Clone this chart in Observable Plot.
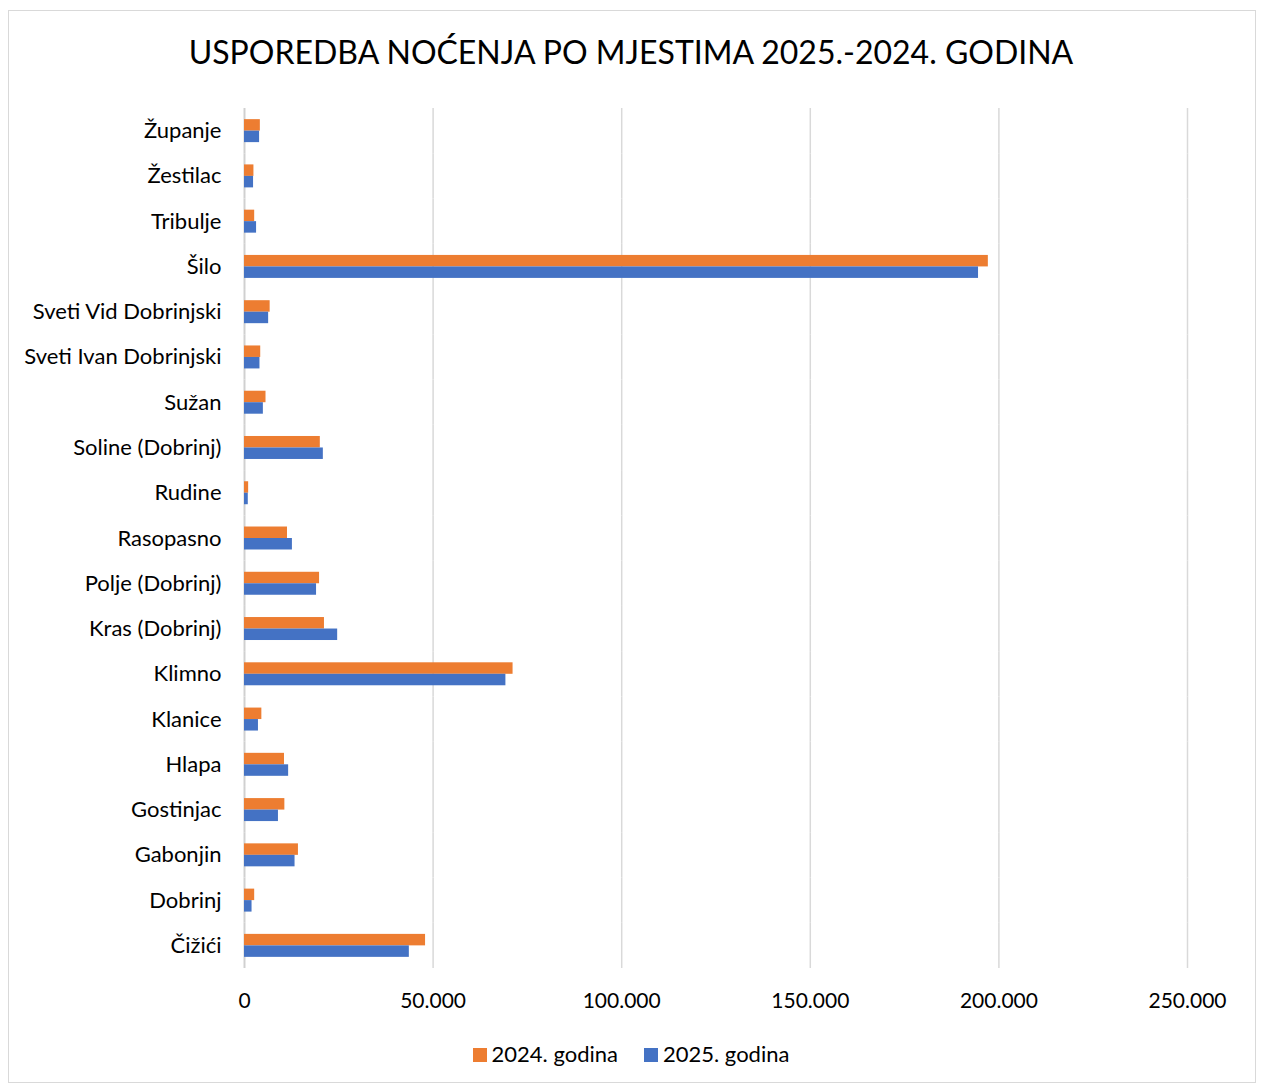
<!DOCTYPE html>
<html>
<head>
<meta charset="utf-8">
<script src="https://cdn.jsdelivr.net/npm/d3@7"></script>
<script src="https://cdn.jsdelivr.net/npm/@observablehq/plot@0.6"></script>
<style>
  body { margin: 0; background: #fff; font-family: Lato, "Noto Sans", sans-serif; }
  #frame { position: absolute; left: 8px; top: 10px; width: 1246px; height: 1071px; border: 1px solid #d9d9d9; }
  #title { position: absolute; left: 0; top: 32px; width: 1262px; text-align: center; font-size: 32px; color: #000; white-space: nowrap; }
  #chart { position: absolute; left: 0; top: 90px; }
  #legend { position: absolute; left: 0; top: 1040px; width: 1262px; text-align: center; font-size: 22px; color: #000; white-space: nowrap; }
  .sw { display: inline-block; width: 14px; height: 14px; margin-right: 5px; vertical-align: 0px; }
  .item { display: inline-block; margin: 0 13px; }
</style>
</head>
<body>
<div id="frame"></div>
<div id="title">USPOREDBA NOĆENJA PO MJESTIMA 2025.-2024. GODINA</div>
<div id="chart"></div>
<div id="legend"></div>
<script>
const places = ["Županje","Žestilac","Tribulje","Šilo","Sveti Vid Dobrinjski","Sveti Ivan Dobrinjski","Sužan","Soline (Dobrinj)","Rudine","Rasopasno","Polje (Dobrinj)","Kras (Dobrinj)","Klimno","Klanice","Hlapa","Gostinjac","Gabonjin","Dobrinj","Čižići"];
const v2024 = [4200,2500,2700,197200,6800,4300,5700,20100,1100,11400,19900,21200,71200,4600,10600,10700,14300,2700,48000];
const v2025 = [4000,2400,3200,194600,6400,4100,5000,20900,1000,12700,19100,24700,69300,3700,11700,9000,13400,2000,43700];
const series = ["2024. godina","2025. godina"];
const colors = ["#ED7D31","#4472C4"];
const xTicks = [0,50000,100000,150000,200000,250000];

const data = [];
places.forEach((p,i) => {
  data.push({place: p, series: series[0], value: v2024[i]});
  data.push({place: p, series: series[1], value: v2025[i]});
});

const fmt = d3.formatLocale({decimal: ",", thousands: ".", grouping: [3], currency: ["",""]}).format(",");

const chart = Plot.plot({
  width: 1262,
  height: 940,
  marginLeft: 244,
  marginRight: 75,
  marginTop: 18,
  marginBottom: 62,
  style: {fontFamily: "Lato, 'Noto Sans', sans-serif", fontSize: "21px", color: "#000"},
  x: {domain: [0, 250000], axis: null},
  y: {domain: series, axis: null, paddingInner: 0, paddingOuter: 0.97, round: false},
  fy: {domain: places, paddingInner: 0, paddingOuter: 0, round: false},
  color: {domain: series, range: colors},
  marks: [
    Plot.ruleX(xTicks.slice(1), {stroke: "#d9d9d9", strokeWidth: 1.5}),
    Plot.ruleX([0], {stroke: "#d0d0d0", strokeWidth: 2}),
    Plot.barX(data, {fy: "place", y: "series", x: "value", fill: "series", inset: 0}),
    Plot.axisFy({anchor: "left", tickSize: 0, tickPadding: 23, fontSize: 22, label: null}),
    Plot.axisX({ticks: xTicks, tickFormat: fmt, tickSize: 0, tickPadding: 25, fontSize: 21, label: null, facetAnchor: "bottom"})
  ]
});
document.getElementById("chart").appendChild(chart);

const leg = document.getElementById("legend");
series.forEach((s,i) => {
  const span = document.createElement("span");
  span.className = "item";
  span.innerHTML = `<span class="sw" style="background:${colors[i]}"></span>${s}`;
  leg.appendChild(span);
});
</script>
</body>
</html>
